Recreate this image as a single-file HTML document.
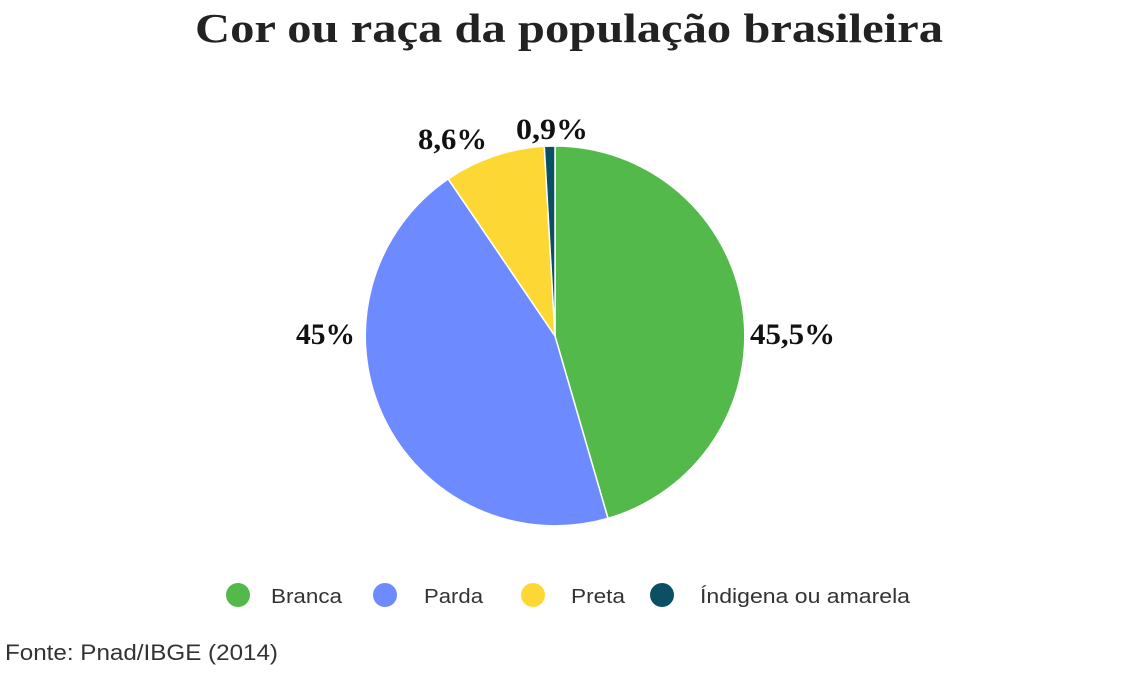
<!DOCTYPE html>
<html><head><meta charset="utf-8"><style>
body{margin:0;background:#fff;width:1138px;height:669px;overflow:hidden;}
</style></head><body>
<svg width="1138" height="669" xmlns="http://www.w3.org/2000/svg">
<text x="195" y="42" textLength="748" lengthAdjust="spacingAndGlyphs" font-family="Liberation Serif, serif" font-weight="bold" font-size="41" fill="#222">Cor ou raça da população brasileira</text>
<g stroke="#fff" stroke-width="1.5">
<path d="M555,336 L555,146 A190,190 0 0 1 608,518.4 Z" fill="#53b94a"/>
<path d="M555,336 L608,518.4 A190,190 0 0 1 448.2,178.9 Z" fill="#6d8bff"/>
<path d="M555,336 L448.2,178.9 A190,190 0 0 1 544.3,146.3 Z" fill="#fdd835"/>
<path d="M555,336 L544.3,146.3 A190,190 0 0 1 555,146 Z" fill="#0a4f63"/>
</g>
<g font-family="Liberation Serif, serif" font-weight="bold" font-size="30" fill="#111">
<text x="750" y="344" textLength="85" lengthAdjust="spacingAndGlyphs">45,5%</text>
<text x="296" y="344" textLength="59" lengthAdjust="spacingAndGlyphs">45%</text>
<text x="418" y="149" textLength="69" lengthAdjust="spacingAndGlyphs">8,6%</text>
<text x="516" y="139" textLength="72" lengthAdjust="spacingAndGlyphs">0,9%</text>
</g>
<g font-family="Liberation Sans, sans-serif" font-size="20" fill="#333">
<circle cx="238" cy="595" r="12" fill="#53b94a"/><text x="271" y="603" textLength="71" lengthAdjust="spacingAndGlyphs">Branca</text>
<circle cx="385" cy="595" r="12" fill="#6d8bff"/><text x="424" y="603" textLength="59" lengthAdjust="spacingAndGlyphs">Parda</text>
<circle cx="533" cy="595" r="12" fill="#fdd835"/><text x="571" y="603" textLength="54" lengthAdjust="spacingAndGlyphs">Preta</text>
<circle cx="662" cy="595" r="12" fill="#0a4f63"/><text x="700" y="603" textLength="210" lengthAdjust="spacingAndGlyphs">Índigena ou amarela</text>
<text x="5" y="660" font-size="22" textLength="273" lengthAdjust="spacingAndGlyphs">Fonte: Pnad/IBGE (2014)</text>
</g>
</svg>
</body></html>
